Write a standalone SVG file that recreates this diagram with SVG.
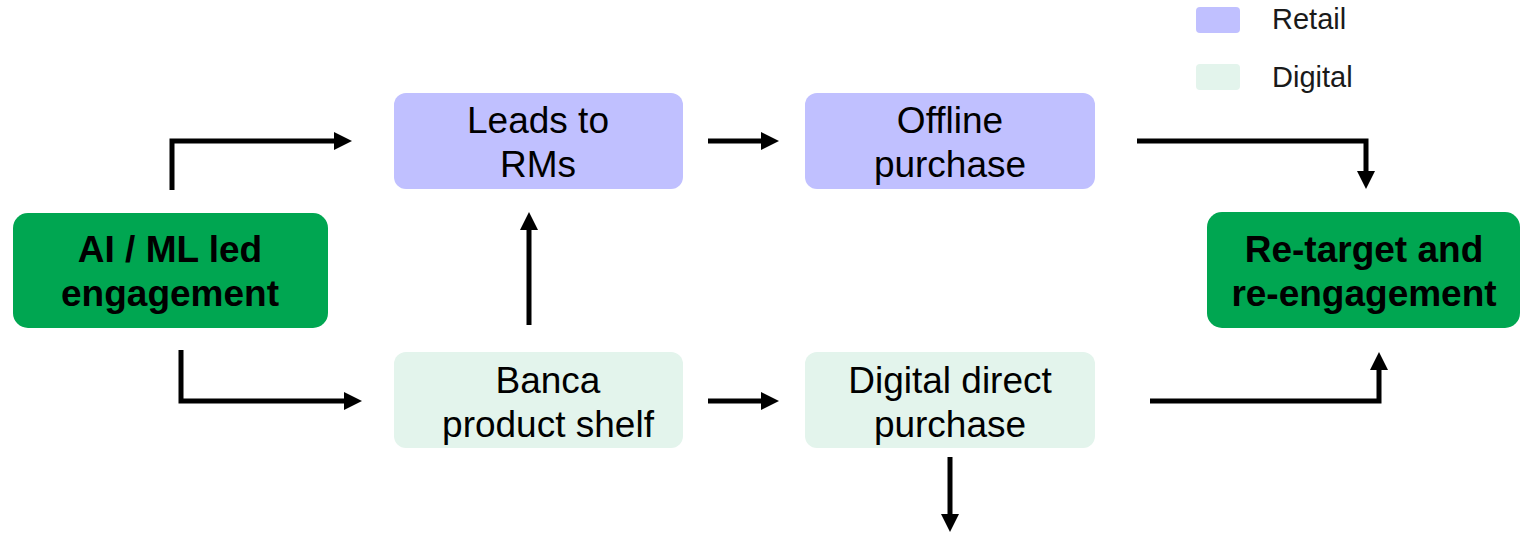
<svg xmlns="http://www.w3.org/2000/svg" width="1539" height="535" viewBox="0 0 1539 535">
<style>
.retail{fill:#C0C0FF}
.digital{fill:#E3F4EC}
.key{fill:#00A651}
.t{font-family:"Liberation Sans",Arial,sans-serif;font-size:37px;fill:#000;text-anchor:middle}
.b{font-weight:bold}
.lg{font-family:"Liberation Sans",Arial,sans-serif;font-size:29px;fill:#1a1a1a}
.c{fill:none;stroke:#000;stroke-width:5;marker-end:url(#ah)}
</style>
<defs>
<marker id="ah" viewBox="0 0 18 18" markerWidth="18" markerHeight="18" markerUnits="userSpaceOnUse" refX="2" refY="9" orient="auto">
<path d="M0,0 L18,9 L0,18 z" fill="#000"/>
</marker>
</defs>
<rect width="1539" height="535" fill="#fff"/>
<g id="legend">
<rect x="1196" y="7" width="44" height="26" rx="4" class="retail"/>
<text x="1272" y="29" class="lg">Retail</text>
<rect x="1196" y="64" width="44" height="26" rx="4" class="digital"/>
<text x="1272" y="87" class="lg">Digital</text>
</g>
<g id="connectors">
<path class="c" d="M172,190 V141 H336"/>
<path class="c" d="M181,350 V401 H346"/>
<path class="c" d="M708,141 H763"/>
<path class="c" d="M1137,141 H1366 V173"/>
<path class="c" d="M1150,401 H1379 V368"/>
<path class="c" d="M529,325 V228"/>
<path class="c" d="M708,401 H763"/>
<path class="c" d="M950,457 V516"/>
</g>
<g id="ai-ml">
<rect x="13" y="213" width="315" height="115" rx="15" class="key"/>
<text x="170" y="262" class="t b">AI / ML led</text>
<text x="170" y="306" class="t b">engagement</text>
</g>
<g id="retarget">
<rect x="1207" y="212" width="313" height="116" rx="15" class="key"/>
<text x="1364" y="262" class="t b">Re-target and</text>
<text x="1364" y="306" class="t b">re-engagement</text>
</g>
<g id="leads">
<rect x="394" y="93" width="289" height="96" rx="12" class="retail"/>
<text x="538" y="133" class="t">Leads to</text>
<text x="538" y="177" class="t">RMs</text>
</g>
<g id="offline">
<rect x="805" y="93" width="290" height="96" rx="12" class="retail"/>
<text x="950" y="133" class="t">Offline</text>
<text x="950" y="177" class="t">purchase</text>
</g>
<g id="banca">
<rect x="394" y="352" width="289" height="96" rx="12" class="digital"/>
<text x="548" y="393" class="t">Banca</text>
<text x="548" y="437" class="t">product shelf</text>
</g>
<g id="digital-direct">
<rect x="805" y="352" width="290" height="96" rx="12" class="digital"/>
<text x="950" y="393" class="t">Digital direct</text>
<text x="950" y="437" class="t">purchase</text>
</g>
</svg>
